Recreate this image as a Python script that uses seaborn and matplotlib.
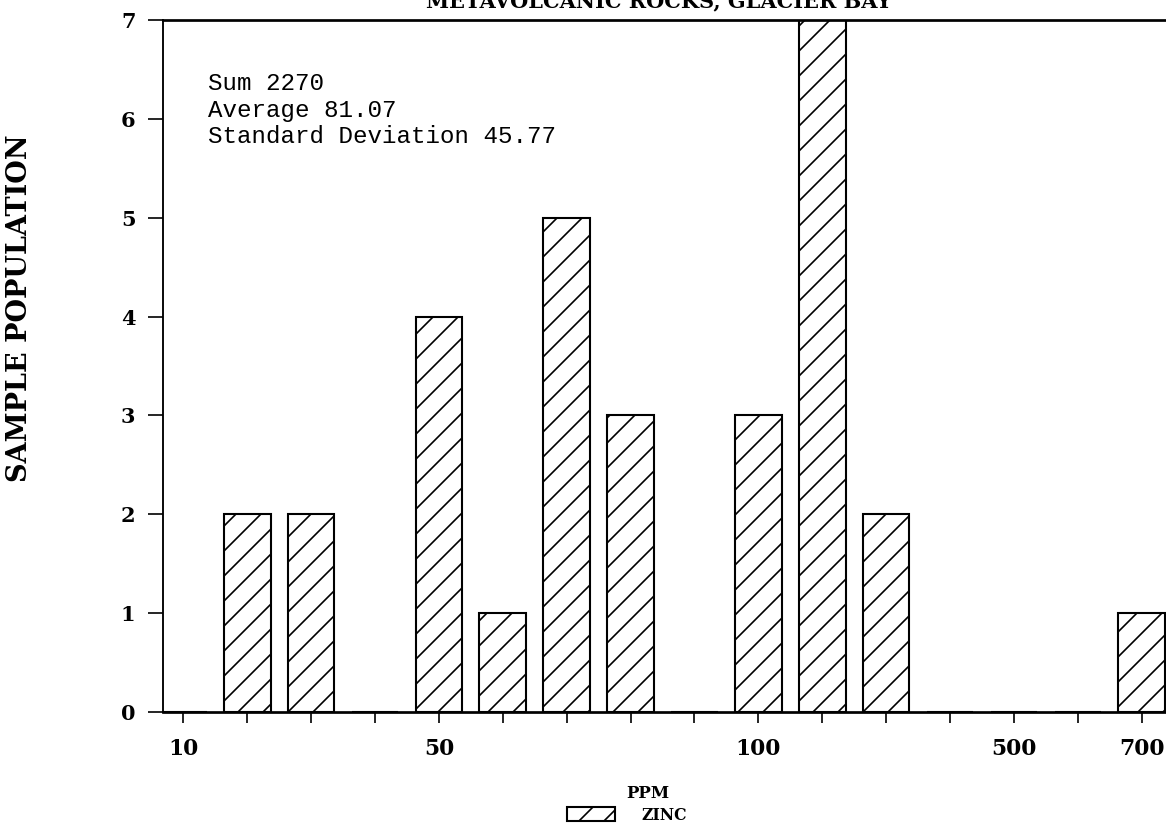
import matplotlib
matplotlib.use("Agg")
import matplotlib.pyplot as plt
import seaborn as sns
import pandas as pd

# ---- data ----
slots = list(range(16))
tick_labels = ["10", "", "", "", "50", "", "", "", "", "100", "", "", "", "500", "", "700"]
counts = [0, 2, 2, 0, 4, 1, 5, 3, 0, 3, 7, 2, 0, 0, 0, 1]
stats_lines = ["Sum 2270", "Average 81.07", "Standard Deviation 45.77"]
title = "METAVOLCANIC ROCKS, GLACIER BAY"
series_name = "ZINC"

sns.set_style("white")
plt.rcParams["font.family"] = ["DejaVu Serif"]
plt.rcParams["hatch.color"] = "black"
plt.rcParams["hatch.linewidth"] = 0.8
plt.rcParams["text.color"] = "black"
plt.rcParams["axes.labelcolor"] = "black"

W, H, DPI = 1166, 831, 150
fig = plt.figure(figsize=(W / DPI, H / DPI), dpi=DPI)
ax = fig.add_axes([163 / W, 1 - 712 / H, 1 - 163 / W, (712 - 20) / H])

df = pd.DataFrame({"slot": slots, "count": counts})
sns.barplot(data=df, x="slot", y="count", order=slots, color="white",
            edgecolor="black", linewidth=1.0, hatch="//", width=0.73,
            label=series_name, ax=ax, saturation=1)

ax.set_xlim(-0.318, 15.38)
ax.set_ylim(0, 7)
ax.set_yticks(range(8))
ax.set_yticklabels([str(i) for i in range(8)], fontsize=10, fontweight="bold")
ax.set_xticks(slots)
ax.set_xticklabels(tick_labels, fontsize=10.5, fontweight="bold")

ax.tick_params(axis="y", direction="out", length=7.2, width=0.8, pad=6, colors="black")
ax.tick_params(axis="x", direction="out", length=5.3, width=0.8, pad=7, colors="black")
ax.tick_params(left=True, bottom=True)

for side in ["top", "left", "bottom"]:
    ax.spines[side].set_visible(True)
    ax.spines[side].set_color("black")
ax.spines["top"].set_linewidth(1.3)
ax.spines["bottom"].set_linewidth(1.3)
ax.spines["left"].set_linewidth(0.9)
ax.spines["right"].set_visible(False)

ax.set_ylabel("SAMPLE POPULATION", fontsize=13, fontweight="bold", color="black")
ax.yaxis.label.set_va("center")
ax.yaxis.set_label_coords((20 - 163) / 1003, (712 - 308) / 692)

ax.set_xlabel("PPM", fontsize=8, fontweight="bold", color="black")
ax.xaxis.label.set_va("center")
ax.xaxis.set_label_coords((647.5 - 163) / 1003, (712 - 793) / 692)

for line, ypx in zip(stats_lines, [90, 116.7, 143]):
    ax.text((208 - 163) / 1003, (712 - ypx) / 692, line, transform=ax.transAxes,
            family="Liberation Mono", fontsize=11.6, va="baseline", ha="left",
            color="black")

fig.text(659 / W, 1 - 7 / H, title, ha="center", va="baseline",
         fontsize=10, fontweight="bold", color="black")

leg = ax.legend(loc="center left", bbox_to_anchor=(567 / W, 1 - 815 / H),
                bbox_transform=fig.transFigure, frameon=False, borderpad=0,
                borderaxespad=0, handlelength=3.05, handleheight=1.0,
                handletextpad=1.7, prop={"size": 7.5, "weight": "bold"})
for t in leg.get_texts():
    t.set_color("black")

fig.savefig("out.png", dpi=DPI)
